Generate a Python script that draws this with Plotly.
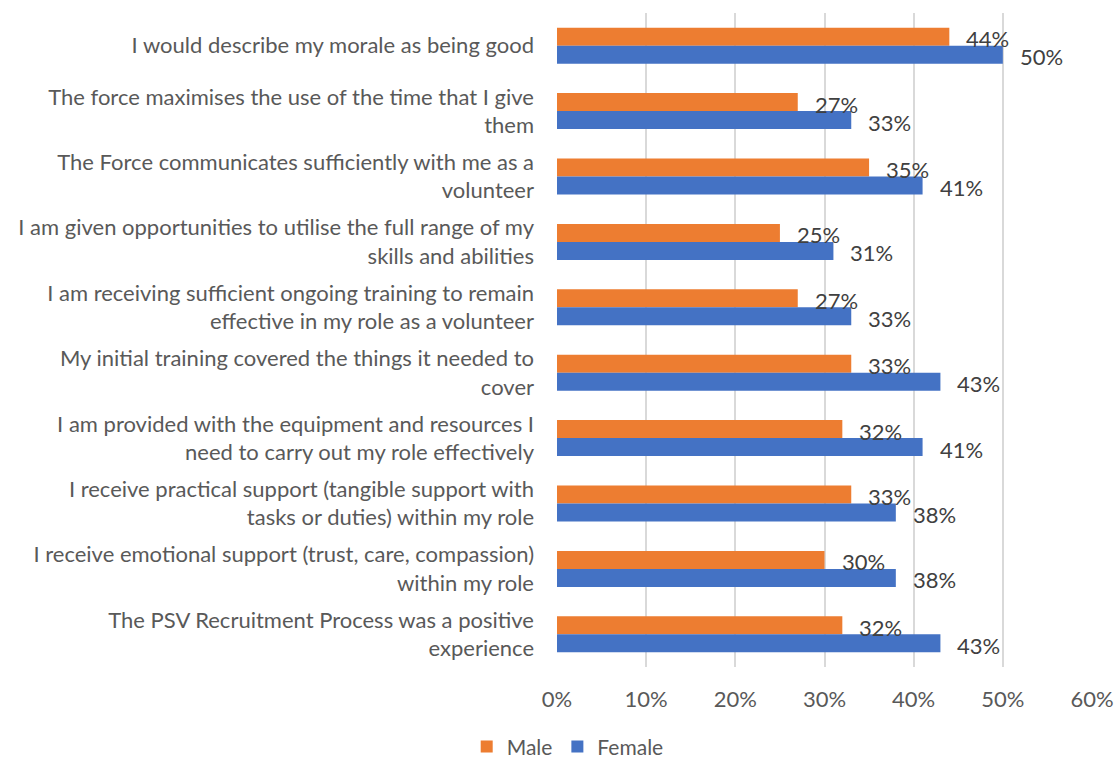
import plotly.graph_objects as go

categories = [
    "I would describe my morale as being good",
    "The force maximises the use of the time that I give<br>them",
    "The Force communicates sufficiently with me as a<br>volunteer",
    "I am given opportunities to utilise the full range of my<br>skills and abilities",
    "I am receiving sufficient ongoing training to remain<br>effective in my role as a volunteer",
    "My initial training covered the things it needed to<br>cover",
    "I am provided with the equipment and resources I<br>need to carry out my role effectively",
    "I receive practical support (tangible support with<br>tasks or duties) within my role",
    "I receive emotional support (trust, care, compassion)<br>within my role",
    "The PSV Recruitment Process was a positive<br>experience",
]
male = [0.44, 0.27, 0.35, 0.25, 0.27, 0.33, 0.32, 0.33, 0.30, 0.32]
female = [0.50, 0.33, 0.41, 0.31, 0.33, 0.43, 0.41, 0.38, 0.38, 0.43]
x_ticks = [0, 0.1, 0.2, 0.3, 0.4, 0.5, 0.6]

FONT = "Lato"
TEXT_GREY = "#595959"
LABEL_GREY = "#404040"

fig = go.Figure()
fig.add_trace(go.Bar(name="Male", y=categories, x=male, orientation="h",
                     marker=dict(color="#ED7D31", line=dict(width=0))))
fig.add_trace(go.Bar(name="Female", y=categories, x=female, orientation="h",
                     marker=dict(color="#4472C4", line=dict(width=0))))

# value labels just past the end of each bar; Male bars sit above the
# category centre, Female bars below it
annotations = []
for cat, m, f in zip(categories, male, female):
    for val, dy in ((m, 7), (f, -11)):
        annotations.append(dict(
            x=val, y=cat, xref="x", yref="y",
            text=f"{val:.0%}", showarrow=False,
            xanchor="left", yanchor="middle", xshift=15, yshift=dy,
            font=dict(family=FONT, size=22, color=LABEL_GREY),
        ))

fig.update_layout(
    width=1114, height=761,
    margin=dict(l=557, r=22, t=13, b=94, autoexpand=False),
    plot_bgcolor="white", paper_bgcolor="white",
    barmode="group", bargap=0.45, bargroupgap=0,
    font=dict(family=FONT, size=22, color=TEXT_GREY),
    annotations=annotations,
    xaxis=dict(range=[0, 0.6], tickvals=x_ticks, tickformat=".0%",
               showgrid=True, gridcolor="#D9D9D9", gridwidth=1.5,
               zeroline=False, showline=False, ticks="", automargin=False,
               tickfont=dict(size=22, color=TEXT_GREY), ticklabelstandoff=17),
    yaxis=dict(autorange="reversed", showgrid=False, showline=False,
               ticks="", ticklabelstandoff=22, automargin=False,
               tickfont=dict(size=22, color=TEXT_GREY)),
    legend=dict(orientation="h", xref="paper", yref="paper",
                x=0.020, xanchor="center", y=-0.122, yanchor="middle",
                font=dict(size=21, color=TEXT_GREY), traceorder="normal"),
)

fig.write_html("out.html")
